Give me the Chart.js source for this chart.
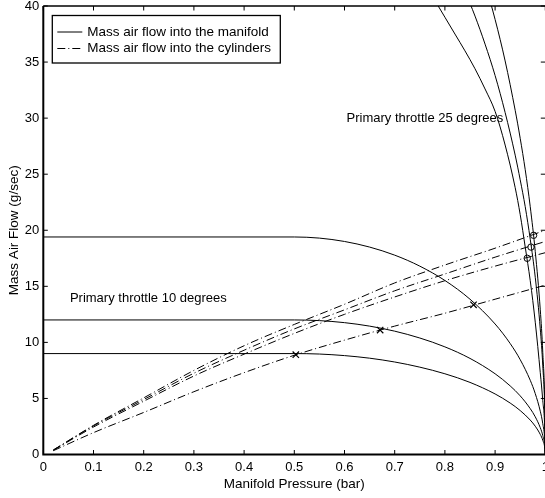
<!DOCTYPE html>
<html>
<head>
<meta charset="utf-8">
<script src="https://cdn.jsdelivr.net/npm/chart.js@4.4.1/dist/chart.umd.min.js"></script>
<style>
  html, body { margin: 0; padding: 0; background: #fff; overflow: hidden; }
  #wrap { width: 545px; height: 498px; overflow: hidden; }
  canvas { display: block; }
</style>
</head>
<body>
<div id="wrap"><canvas id="flowChart" width="560" height="498"></canvas></div>
<script>
const FONT = "'Liberation Sans', Arial, Helvetica, sans-serif";

// manifold flow, three low throttle curves
const pressureLow = [0, 0.5, 0.55, 0.6, 0.65, 0.7, 0.75, 0.8, 0.85, 0.9, 0.93, 0.95, 0.97, 0.98, 0.99, 0.995, 0.999, 1];
const manifoldLowA = [9, 9, 8.96, 8.82, 8.59, 8.25, 7.79, 7.2, 6.43, 5.4, 4.59, 3.92, 3.07, 2.52, 1.79, 1.27, 0.57, 0];
const manifoldLowB = [12, 12, 11.94, 11.76, 11.45, 11.0, 10.39, 9.6, 8.57, 7.2, 6.12, 5.23, 4.09, 3.36, 2.39, 1.69, 0.76, 0];
const manifoldLowC = [19.4, 19.4, 19.3, 19.0, 18.5, 17.78, 16.8, 15.52, 13.85, 11.64, 9.9, 8.46, 6.62, 5.43, 3.86, 2.74, 1.23, 0];

// manifold flow, three steep curves (25 degrees)
const pressureHigh = [0.76, 0.78, 0.8, 0.82, 0.84, 0.86, 0.88, 0.9, 0.92, 0.94, 0.95, 0.96, 0.97, 0.98, 0.99, 0.995, 0.999, 1];
const manifoldHighA = [42.0, 40.5, 39.0, 37.5, 36.0, 34.4, 32.6, 30.6, 27.6, 23.8, 21.4, 18.5, 15.5, 11.8, 7.3, 4.8, 2.2, 0];
const manifoldHighB = [48.1, 46.6, 45.0, 43.3, 41.3, 39.1, 36.6, 33.8, 30.5, 26.7, 24.5, 22.1, 19.2, 15.8, 11.2, 7.9, 3.6, 0];
const manifoldHighC = [55.3, 53.6, 51.8, 49.7, 47.4, 44.9, 42.0, 38.8, 35.1, 30.7, 28.2, 25.4, 22.1, 18.1, 12.9, 9.1, 4.1, 0];

// cylinder flow (dash-dot)
const pressureCyl = [0.02, 0.1, 0.2, 0.3, 0.4, 0.5, 0.6, 0.7, 0.8, 0.9, 1];
const cylinderA = [0.34, 1.95, 3.75, 5.6, 7.3, 8.85, 10.2, 11.45, 12.6, 13.85, 15.1];
const cylinderB = [0.38, 2.45, 4.75, 7.0, 8.95, 10.8, 12.5, 14.05, 15.5, 16.8, 18.0];
const cylinderC = [0.4, 2.55, 4.9, 7.25, 9.3, 11.2, 12.9, 14.6, 16.1, 17.6, 19.0];
const cylinderD = [0.4, 2.6, 5.05, 7.5, 9.7, 11.6, 13.4, 15.3, 16.9, 18.4, 20.0];

// operating points
const crossX = [0.503, 0.671, 0.857];
const crossY = [8.9, 11.1, 13.35];
const circleX = [0.964, 0.9715, 0.9767];
const circleY = [17.5, 18.5, 19.55];

const xTicks = { min: 0, max: 1, step: 0.1 };
const yTicks = { min: 0, max: 40, step: 5 };

function toPoints(xs, ys) {
  return xs.map((x, i) => ({ x: x, y: ys[i] }));
}

const solid = {
  borderColor: '#000',
  borderWidth: 1,
  pointRadius: 0,
  fill: false,
  cubicInterpolationMode: 'monotone'
};
const dashDot = Object.assign({}, solid, { borderDash: [8, 3, 1, 3] });

const datasets = [
  Object.assign({ label: 'Mass air flow into the manifold', data: toPoints(pressureLow, manifoldLowA) }, solid),
  Object.assign({ label: 'manifold 2', data: toPoints(pressureLow, manifoldLowB) }, solid),
  Object.assign({ label: 'manifold 3', data: toPoints(pressureLow, manifoldLowC) }, solid),
  Object.assign({ label: 'manifold 4', data: toPoints(pressureHigh, manifoldHighA) }, solid),
  Object.assign({ label: 'manifold 5', data: toPoints(pressureHigh, manifoldHighB) }, solid),
  Object.assign({ label: 'manifold 6', data: toPoints(pressureHigh, manifoldHighC) }, solid),
  Object.assign({ label: 'Mass air flow into the cylinders', data: toPoints(pressureCyl, cylinderA) }, dashDot),
  Object.assign({ label: 'cylinders 2', data: toPoints(pressureCyl, cylinderB) }, dashDot),
  Object.assign({ label: 'cylinders 3', data: toPoints(pressureCyl, cylinderC) }, dashDot),
  Object.assign({ label: 'cylinders 4', data: toPoints(pressureCyl, cylinderD) }, dashDot),
  {
    label: 'x marks',
    data: toPoints(crossX, crossY),
    showLine: false,
    pointStyle: 'crossRot',
    pointRadius: 4.5,
    pointBorderWidth: 1.2,
    pointBorderColor: '#000'
  },
  {
    label: 'o marks',
    data: toPoints(circleX, circleY),
    showLine: false,
    pointStyle: 'circle',
    pointRadius: 3.2,
    pointBorderWidth: 1,
    pointBorderColor: '#000',
    pointBackgroundColor: 'rgba(0,0,0,0)'
  }
];

// MATLAB style box: inner ticks, frame, legend, text labels
const framePlugin = {
  id: 'frame',
  afterDraw(chart) {
    const ctx = chart.ctx;
    const area = chart.chartArea;
    const xs = chart.scales.x;
    const ys = chart.scales.y;
    const tickLen = 4.5;
    ctx.save();
    ctx.strokeStyle = '#000';
    ctx.lineWidth = 1;
    ctx.setLineDash([]);
    ctx.beginPath();
    xs.ticks.forEach(t => {
      const px = xs.getPixelForValue(t.value);
      ctx.moveTo(px, area.bottom);
      ctx.lineTo(px, area.bottom - tickLen);
      ctx.moveTo(px, area.top);
      ctx.lineTo(px, area.top + tickLen);
    });
    ys.ticks.forEach(t => {
      const py = ys.getPixelForValue(t.value);
      ctx.moveTo(area.left, py);
      ctx.lineTo(area.left + tickLen, py);
      ctx.moveTo(area.right, py);
      ctx.lineTo(area.right - tickLen, py);
    });
    ctx.stroke();

    // axes lines
    ctx.lineWidth = 2;
    ctx.beginPath();
    ctx.moveTo(area.left, area.top);
    ctx.lineTo(area.left, area.bottom);
    ctx.lineTo(area.right, area.bottom);
    ctx.stroke();
    ctx.lineWidth = 1.6;
    ctx.beginPath();
    ctx.moveTo(area.left, area.top);
    ctx.lineTo(area.right, area.top);
    ctx.stroke();

    // legend box
    const lx = area.left + 9;
    const ly = area.top + 9.5;
    ctx.lineWidth = 1.3;
    ctx.strokeRect(lx, ly, 228, 47.5);
    const rows = [
      { text: chart.data.datasets[0].label, dash: [], y: ly + 16.5 },
      { text: chart.data.datasets[6].label, dash: [8, 3, 1, 3], y: ly + 33 }
    ];
    ctx.font = '13.5px ' + FONT;
    ctx.fillStyle = '#000';
    ctx.textBaseline = 'middle';
    ctx.textAlign = 'left';
    rows.forEach(r => {
      ctx.lineWidth = 1;
      ctx.setLineDash(r.dash);
      ctx.beginPath();
      ctx.moveTo(lx + 5, r.y);
      ctx.lineTo(lx + 30, r.y);
      ctx.stroke();
      ctx.setLineDash([]);
      ctx.fillText(r.text, lx + 35, r.y);
    });

    // throttle labels
    ctx.font = '13px ' + FONT;
    ctx.fillText('Primary throttle 25 degrees', xs.getPixelForValue(0.604), ys.getPixelForValue(30));
    ctx.fillText('Primary throttle 10 degrees', xs.getPixelForValue(0.053), ys.getPixelForValue(13.95));
    ctx.restore();
  }
};

const ctx = document.getElementById('flowChart').getContext('2d');
const flowChart = new Chart(ctx, {
  type: 'line',
  data: { datasets: datasets },
  options: {
    responsive: false,
    animation: false,
    layout: { padding: { top: 6, right: 14.7, bottom: 0, left: 0 } },
    plugins: {
      legend: { display: false },
      tooltip: { enabled: false }
    },
    scales: {
      x: {
        type: 'linear',
        min: xTicks.min,
        max: xTicks.max,
        grid: { display: false, drawTicks: false },
        border: { display: false },
        ticks: {
          stepSize: xTicks.step,
          autoSkip: false,
          maxRotation: 0,
          padding: 5,
          color: '#000',
          font: { family: FONT, size: 13 },
          callback: v => String(+v.toFixed(1))
        },
        title: {
          display: true,
          text: 'Manifold Pressure (bar)',
          color: '#000',
          font: { family: FONT, size: 13.5 },
          padding: { top: 0, bottom: 6 }
        },
        afterFit(scale) {
          scale.height = 43.5;
          scale.paddingLeft = 0;
          scale.paddingRight = 0;
        }
      },
      y: {
        type: 'linear',
        min: yTicks.min,
        max: yTicks.max,
        grid: { display: false, drawTicks: false },
        border: { display: false },
        ticks: {
          stepSize: yTicks.step,
          padding: 4,
          color: '#000',
          font: { family: FONT, size: 13, lineHeight: 1 }
        },
        title: {
          display: true,
          text: 'Mass Air Flow (g/sec)',
          color: '#000',
          font: { family: FONT, size: 13.5 },
          padding: { top: 6.4, bottom: 0 }
        },
        afterFit(scale) {
          scale.width = 43.3;
          scale.paddingTop = 0;
          scale.paddingBottom = 0;
        }
      }
    }
  },
  plugins: [framePlugin]
});
</script>
</body>
</html>
